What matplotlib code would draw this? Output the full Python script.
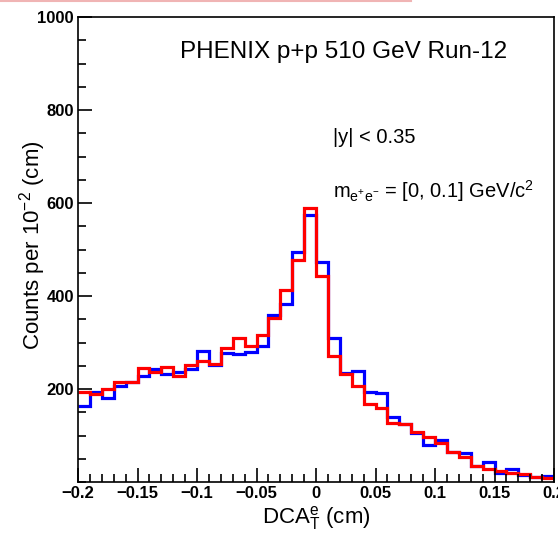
import matplotlib
matplotlib.use("Agg")
import matplotlib.pyplot as plt
import numpy as np
from matplotlib.lines import Line2D
from matplotlib.ticker import MultipleLocator, FixedLocator

plt.rcParams['font.family'] = ['Liberation Sans', 'DejaVu Sans']
plt.rcParams['mathtext.fontset'] = 'custom'
plt.rcParams['mathtext.rm'] = 'Liberation Sans'
plt.rcParams['mathtext.it'] = 'Liberation Sans'

# bin edges: 40 bins of 0.01 cm from -0.2 to 0.2
edges = np.round(np.linspace(-0.2, 0.2, 41), 3)

# counts per bin
blue_counts = [163, 194, 181, 207, 214, 229, 242, 232, 236, 244,
               282, 252, 277, 275, 279, 293, 359, 382, 495, 574,
               474, 309, 235, 239, 193, 191, 140, 124, 105, 80,
               90, 64, 62, 35, 42, 19, 27, 15, 11, 13]
red_counts = [194, 189, 201, 214, 214, 246, 237, 248, 229, 252,
              260, 253, 289, 310, 293, 316, 353, 413, 477, 589,
              444, 272, 232, 206, 167, 160, 126, 124, 108, 97,
              83, 64, 54, 35, 27, 24, 20, 17, 11, 9]

x_ticks = [-0.2, -0.15, -0.1, -0.05, 0, 0.05, 0.1, 0.15, 0.2]
x_labels = ['\u22120.2', '\u22120.15', '\u22120.1', '\u22120.05', '0',
            '0.05', '0.1', '0.15', '0.2']
y_ticks = [200, 400, 600, 800, 1000]

fig = plt.figure(figsize=(5.58, 5.34), dpi=100)
ax = fig.add_axes([78 / 558, 52 / 534, 476 / 558, 465 / 534])

ax.stairs(blue_counts, edges, baseline=None, color='#0000ff', lw=2.3)
ax.stairs(red_counts, edges, baseline=None, color='#ff0000', lw=2.3)

ax.set_xlim(-0.2, 0.2)
ax.set_ylim(0, 1000)

ax.xaxis.set_major_locator(FixedLocator(x_ticks))
ax.set_xticklabels(x_labels)
ax.xaxis.set_minor_locator(MultipleLocator(0.01))
ax.yaxis.set_major_locator(FixedLocator(y_ticks))
ax.yaxis.set_minor_locator(MultipleLocator(50))

ax.tick_params(which='both', direction='in', top=False, right=False,
               width=1.2, labelsize=12)
ax.tick_params(which='major', length=10)
ax.tick_params(which='minor', length=5.5)
for lab in ax.get_xticklabels() + ax.get_yticklabels():
    lab.set_fontweight('bold')
ax.tick_params(axis='x', pad=3)
ax.tick_params(axis='y', pad=3)

for sp in ax.spines.values():
    sp.set_linewidth(1.2)

ax.set_xlabel(r'DCA$_{\mathrm{T}}^{\mathrm{e}}$ (cm)', fontsize=16, labelpad=2)
ax.set_ylabel(r'Counts per 10$^{-2}$ (cm)', fontsize=16)
ax.yaxis.set_label_coords(-0.064, 0.51)

ax.text(0.215, 0.925, 'PHENIX p+p 510 GeV Run-12', transform=ax.transAxes,
        fontsize=17.5, ha='left', va='center')
ax.text(0.536, 0.74, '|y| < 0.35', transform=ax.transAxes,
        fontsize=14.5, ha='left', va='center')
ax.text(0.536, 0.625, r'm$_{\mathrm{e^{+}e^{-}}}$ = [0, 0.1] GeV/c$^{2}$',
        transform=ax.transAxes, fontsize=14.5, ha='left', va='center')

# thin pink line along the top edge of the image
fig.add_artist(Line2D([0, 411 / 558], [0.999, 0.999], color='#f0b4b4',
                      lw=1.5, transform=fig.transFigure))

fig.savefig('out.png', dpi=100)
